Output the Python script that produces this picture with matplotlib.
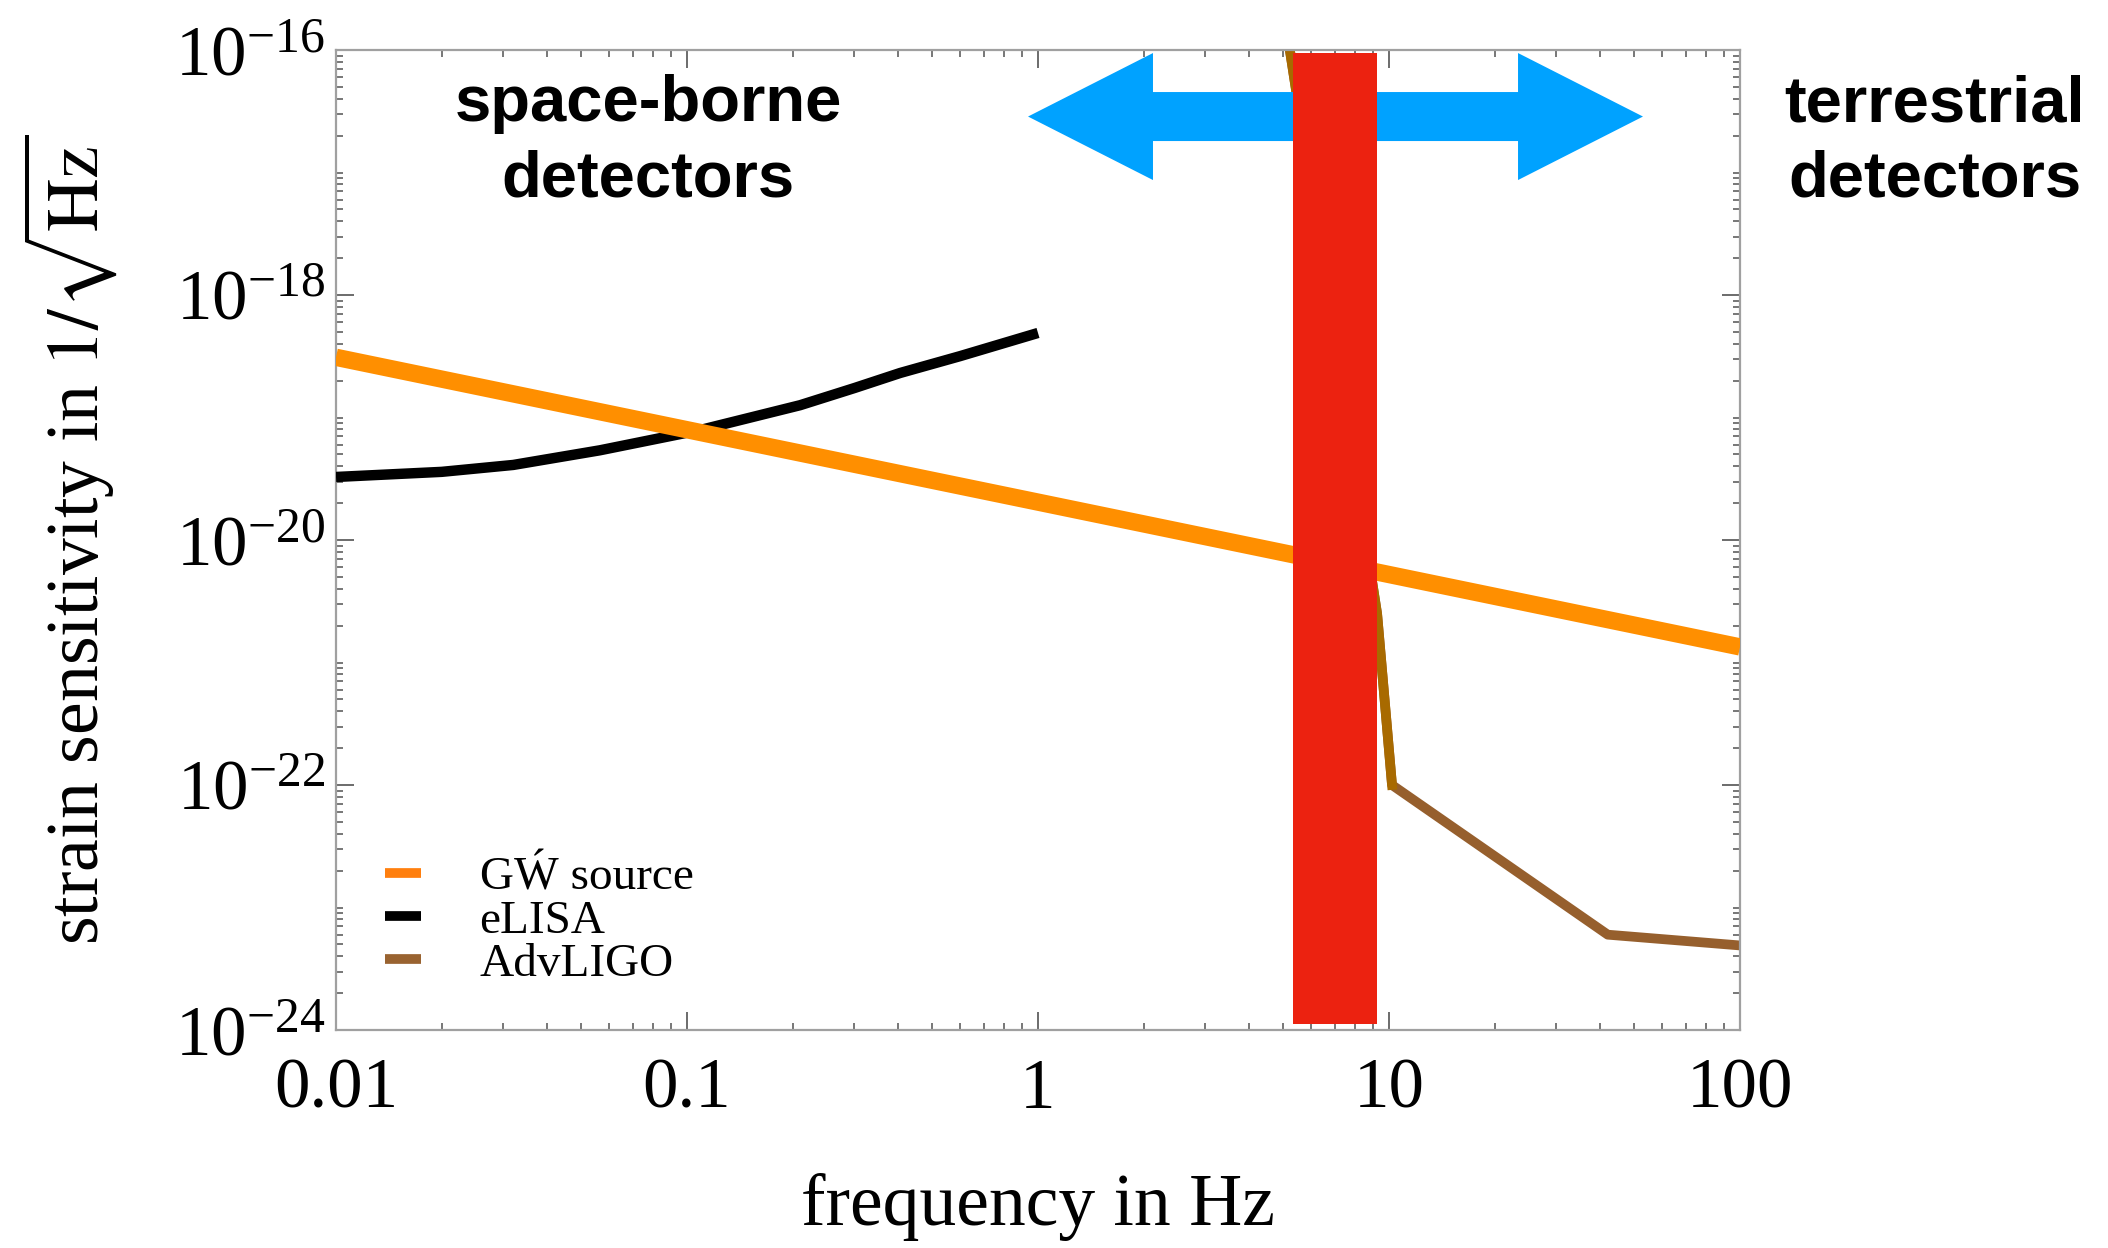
import numpy as np
import matplotlib
matplotlib.use('Agg')
import matplotlib.pyplot as plt
from matplotlib.lines import Line2D
from matplotlib.patches import Polygon
from matplotlib.ticker import FixedLocator, FixedFormatter, LogLocator, NullFormatter

plt.rcParams['font.family'] = ['Liberation Serif', 'DejaVu Serif']
plt.rcParams['mathtext.fontset'] = 'stix'

# 数据
gw_freq = [0.01, 100]
gw_strain = [3.1e-19, 1.34e-21]

elisa_freq = [0.01, 0.02, 0.032, 0.0565, 0.109, 0.21, 0.3, 0.405, 0.6, 1.0]
elisa_strain = [3.27e-20, 3.6e-20, 4.1e-20, 5.4e-20, 7.9e-20, 1.26e-19, 1.74e-19, 2.31e-19, 3.17e-19, 4.9e-19]

ligo_freq = [5.0, 9.25, 10.2, 42.0, 100]
ligo_strain = [2.2e-16, 2.5e-21, 1.0e-22, 6.0e-24, 4.9e-24]

band = [5.33, 9.25]  # 红色频带

x_ticks = [0.01, 0.1, 1, 10, 100]
x_ticklabels = ['0.01', '0.1', '1', '10', '100']
y_ticks = [1e-24, 1e-22, 1e-20, 1e-18, 1e-16]

fig = plt.figure(figsize=(21.08, 12.48), dpi=100)
ax = fig.add_axes([336 / 2108, 1 - 1030 / 1248, 1404 / 2108, 980 / 1248])
ax.set_xscale('log')
ax.set_yscale('log')
ax.set_xlim(0.01, 100)
ax.set_ylim(1e-24, 1e-16)

ax.plot(elisa_freq, elisa_strain, color='black', lw=7.5, solid_capstyle='butt', zorder=3)
ax.plot(gw_freq, gw_strain, color='#ff8f00', lw=12.5, solid_capstyle='butt', zorder=4)
ax.plot(ligo_freq, ligo_strain, color='#965f2d', lw=7, zorder=2)
ax.plot(ligo_freq[:3], ligo_strain[:3], color='#a86a00', lw=7, zorder=2)

# 蓝色双向箭头 (轴坐标)
xl, xr, hl = 0.4929, 0.9309, 0.089
yc, sh, hh = 0.9321, 0.025, 0.0648
arrow = Polygon([(xl, yc), (xl + hl, yc + hh), (xl + hl, yc + sh), (xr - hl, yc + sh),
                 (xr - hl, yc + hh), (xr, yc), (xr - hl, yc - hh), (xr - hl, yc - sh),
                 (xl + hl, yc - sh), (xl + hl, yc - hh)],
                closed=True, transform=ax.transAxes, facecolor='#00a2ff', edgecolor='none', zorder=5)
ax.add_patch(arrow)

ax.axvspan(band[0], band[1], ymin=0.006, ymax=0.997, color='#ec2210', lw=0, zorder=6)

# 坐标轴样式
for s in ax.spines.values():
    s.set_color('#a0a0a0')
    s.set_linewidth(1.6)
ax.xaxis.set_major_locator(FixedLocator(x_ticks))
ax.xaxis.set_major_formatter(FixedFormatter(x_ticklabels))
ax.xaxis.set_minor_locator(LogLocator(base=10, subs=np.arange(2, 10)))
ax.xaxis.set_minor_formatter(NullFormatter())
ax.yaxis.set_major_locator(FixedLocator(y_ticks))
ax.yaxis.set_minor_locator(LogLocator(base=10, subs=np.arange(1, 10), numticks=50))
ax.yaxis.set_minor_formatter(NullFormatter())
ax.tick_params(which='both', direction='in', top=True, right=True, color='#606060')
ax.tick_params(which='major', length=13, width=1.3)
ax.tick_params(which='minor', length=5, width=1.2)
ax.tick_params(axis='x', which='major', labelsize=51, pad=20)
ax.tick_params(axis='y', which='major', labelsize=51, pad=8)

ax.set_xlabel('frequency in Hz', fontsize=53, labelpad=36)
ax.set_ylabel(r'strain sensitivity in $1/\sqrt{\mathrm{Hz}}$', fontsize=53, labelpad=40)

handles = [Line2D([], [], color='#ff7f0e', lw=7, solid_capstyle='butt'),
           Line2D([], [], color='black', lw=7, solid_capstyle='butt'),
           Line2D([], [], color='#996330', lw=7, solid_capstyle='butt')]
ax.legend(handles, ['GẂ source', 'eLISA', 'AdvLIGO'], loc='lower left',
          bbox_to_anchor=(0.035, 0.045), frameon=False, fontsize=34,
          handlelength=0.75, handletextpad=1.25, labelspacing=0.0,
          borderaxespad=0, borderpad=0)

bold = dict(family=['Liberation Sans', 'DejaVu Sans'], fontweight='bold', fontsize=47,
            ha='center', va='center', linespacing=1.32)
fig.text(648 / 2108, 1 - 142 / 1248, 'space-borne\ndetectors', **bold)
fig.text(1935 / 2108, 1 - 142 / 1248, 'terrestrial\ndetectors', **bold)

fig.savefig('out.png', dpi=100, facecolor='white')
